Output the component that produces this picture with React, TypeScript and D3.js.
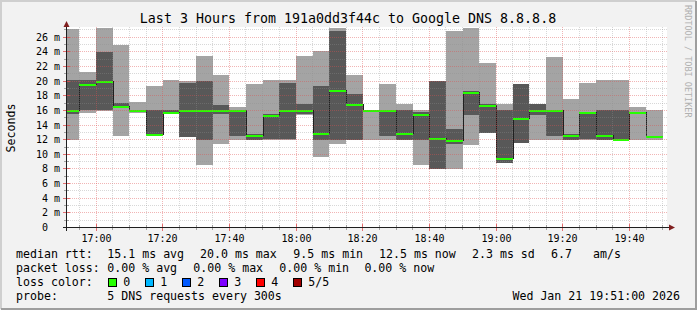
import React from 'react';
import * as d3 from 'd3';

// ---- data (ms) ----
const binStarts = [
  "16:50", "16:55", "17:00", "17:05", "17:10", "17:15", "17:20", "17:25", "17:30", "17:35",
  "17:40", "17:45", "17:50", "17:55", "18:00", "18:05", "18:10", "18:15", "18:20", "18:25",
  "18:30", "18:35", "18:40", "18:45", "18:50", "18:55", "19:00", "19:05", "19:10", "19:15",
  "19:20", "19:25", "19:30", "19:35", "19:40", "19:45",
];
const ping1 = [12.0, 15.6, 15.95, 12.5, 15.7, 12.7, 15.7, 12.3, 8.6, 11.4,
  12.0, 11.95, 12.0, 12.0, 15.4, 9.6, 11.4, 11.95, 12.0, 12.0,
  11.95, 8.6, 7.95, 7.95, 11.3, 12.85, 8.8, 11.5, 12.0, 12.0,
  11.95, 12.0, 11.95, 11.95, 12.0, 12.0];
const ping2 = [15.5, 16.0, 16.0, 16.4, 15.9, 12.75, 15.75, 12.4, 12.0, 15.5,
  12.5, 12.0, 12.05, 12.05, 15.45, 12.0, 12.0, 12.0, 15.9, 12.5,
  12.0, 12.0, 8.0, 11.4, 15.4, 12.9, 8.85, 11.55, 15.4, 12.5,
  12.0, 12.05, 12.0, 12.0, 15.75, 12.45];
const median = [16.0, 19.6, 20.0, 16.6, 16.0, 12.8, 15.8, 16.0, 16.0, 16.0,
  16.0, 12.7, 15.4, 16.0, 16.0, 12.9, 18.8, 16.85, 16.0, 16.0,
  12.9, 15.5, 12.2, 12.0, 18.55, 16.8, 9.5, 15.0, 16.0, 16.0,
  12.7, 15.8, 12.7, 12.1, 15.8, 12.5];
const ping4 = [20.1, 20.1, 24.0, 17.0, 16.1, 16.0, 16.0, 19.8, 20.0, 16.7,
  16.1, 12.75, 15.5, 19.7, 16.85, 19.3, 26.8, 18.2, 16.05, 16.05,
  16.0, 15.8, 20.0, 13.4, 18.7, 16.85, 16.0, 19.6, 16.85, 16.05,
  12.75, 15.85, 16.0, 16.0, 15.85, 12.55];
const ping5 = [27.1, 21.2, 27.3, 25.0, 17.1, 19.4, 20.1, 20.0, 23.5, 20.8,
  16.5, 19.6, 20.1, 20.1, 23.4, 24.1, 27.3, 20.9, 16.1, 19.6,
  16.85, 16.0, 20.05, 26.9, 27.3, 22.5, 16.85, 19.65, 16.9, 23.3,
  17.5, 19.7, 20.1, 20.1, 16.4, 16.0];

const yTickValues = [0, 2, 4, 6, 8, 10, 12, 14, 16, 18, 20, 22, 24, 26];
const xTickLabels = ["17:00", "17:20", "17:40", "18:00", "18:20", "18:40", "19:00", "19:20", "19:40"];

const lossLabels = ["0", "1", "2", "3", "4", "5/5"];
const lossColors = ["#26ff00", "#00b8ff", "#0059ff", "#7e00ff", "#ff0000", "#a10000"];

const medianRow = [
  { t: "median rtt:", x: 16 },
  { t: "15.1 ms avg", x: 107.3 },
  { t: "20.0 ms max", x: 200 },
  { t: "9.5 ms min", x: 293.3 },
  { t: "12.5 ms now", x: 379 },
  { t: "2.3 ms sd", x: 472 },
  { t: "6.7", x: 551 },
  { t: "am/s", x: 593 },
];
const lossRow = [
  { t: "packet loss:", x: 16 },
  { t: "0.00 % avg", x: 107.3 },
  { t: "0.00 % max", x: 193.3 },
  { t: "0.00 % min", x: 279.3 },
  { t: "0.00 % now", x: 364.4 },
];

const W = 697;
const H = 310;
const MONO = "'DejaVu Sans Mono', monospace";

const toDate = (s: string) => {
  const [h, m] = s.split(":").map(Number);
  return new Date(2026, 0, 21, h, m);
};

export default function App() {
  const x = d3.scaleTime()
    .domain([new Date(2026, 0, 21, 16, 51), new Date(2026, 0, 21, 19, 51)])
    .range([66, 666]);
  const y = d3.scaleLinear().domain([0, 27.33]).range([227.5, 27.5]);
  const crisp = (v: number) => Math.floor(v) + 0.5;

  const bins = binStarts.map((s, i) => {
    const t0 = toDate(s);
    const t1 = d3.timeMinute.offset(t0, 5);
    return {
      x0: Math.round(x(t0)),
      x1: Math.round(x(t1)),
      p1: ping1[i], p2: ping2[i], med: median[i], p4: ping4[i], p5: ping5[i],
    };
  });

  const linePts: [number, number][] = bins.map(b => [b.x0, Math.round(y(b.med)) + 0.5]);
  linePts.push([bins[bins.length - 1].x1, Math.round(y(bins[bins.length - 1].med)) + 0.5]);
  const medLine = d3.line().curve(d3.curveStepAfter)(linePts) || "";

  const start = new Date(2026, 0, 21, 16, 51);
  const end = new Date(2026, 0, 21, 19, 51);
  const minorTimes = d3.timeMinute.every(5)!.range(start, end).filter(t => t.getMinutes() % 20 !== 0);
  const majorTimes = d3.timeMinute.every(20)!.range(start, end);
  const minorY = d3.range(1, 28).filter(v => v % 2 !== 0);
  const majorY = d3.range(2, 27, 2);

  const gridMinor = "rgba(143,143,143,0.35)";
  const gridMajor = "rgba(222,79,79,0.42)";

  return (
    <svg width={W} height={H} style={{ position: 'absolute', left: 0, top: 0, display: 'block' }}
      xmlns="http://www.w3.org/2000/svg">
      <defs>
        <clipPath id="plotclip">
          <rect x={66} y={27} width={601} height={201} />
        </clipPath>
      </defs>
      <rect x={0} y={0} width={W} height={H} fill="#f2f2f2" />
      <polyline points={`1,${H - 1} 1,1 ${W - 1},1`} fill="none" stroke="#cfcfcf" strokeWidth={2} />
      <polyline points={`1,${H - 1} ${W - 1},${H - 1} ${W - 1},1`} fill="none" stroke="#9e9e9e" strokeWidth={2} />

      <rect x={66} y={27} width={601} height={201} fill="#ffffff" />

      <g clipPath="url(#plotclip)" shapeRendering="crispEdges">
        {bins.map((b, i) => (
          <rect key={"o" + i} x={b.x0} width={b.x1 - b.x0}
            y={y(b.p5)} height={y(b.p1) - y(b.p5)} fill="#a4a4a4" />
        ))}
        {bins.map((b, i) => (
          <rect key={"i" + i} x={b.x0} width={b.x1 - b.x0}
            y={y(b.p4)} height={y(b.p2) - y(b.p4)} fill="#585858" />
        ))}
        <path d={medLine} fill="none" stroke="#202020" strokeWidth={1} />
        {bins.map((b, i) => (
          <rect key={"m" + i} x={b.x0} width={b.x1 - b.x0}
            y={Math.round(y(b.med)) - 0.5} height={2} fill="#26ff00" />
        ))}
      </g>

      <g strokeWidth={1} strokeDasharray="1,1" shapeRendering="crispEdges">
        {minorY.map(v => (
          <line key={"hy" + v} x1={66} x2={667} y1={crisp(y(v))} y2={crisp(y(v))} stroke={gridMinor} />
        ))}
        {majorY.map(v => (
          <line key={"Hy" + v} x1={66} x2={667} y1={crisp(y(v))} y2={crisp(y(v))} stroke={gridMajor} />
        ))}
        {minorTimes.map((t, i) => (
          <line key={"vx" + i} x1={crisp(x(t))} x2={crisp(x(t))} y1={27} y2={228} stroke={gridMinor} />
        ))}
        {majorTimes.map((t, i) => (
          <line key={"Vx" + i} x1={crisp(x(t))} x2={crisp(x(t))} y1={27} y2={228} stroke={gridMajor} />
        ))}
      </g>

      <g shapeRendering="crispEdges">
        {minorY.map(v => (
          <line key={"ty" + v} x1={64} x2={69} y1={crisp(y(v))} y2={crisp(y(v))} stroke="rgba(143,143,143,0.8)" />
        ))}
        {majorY.map(v => (
          <line key={"Ty" + v} x1={63} x2={70} y1={crisp(y(v))} y2={crisp(y(v))} stroke="rgba(222,79,79,0.8)" />
        ))}
        {minorTimes.map((t, i) => (
          <line key={"tx" + i} x1={crisp(x(t))} x2={crisp(x(t))} y1={225} y2={230} stroke="rgba(143,143,143,0.8)" />
        ))}
        {majorTimes.map((t, i) => (
          <line key={"Tx" + i} x1={crisp(x(t))} x2={crisp(x(t))} y1={224} y2={231} stroke="rgba(222,79,79,0.8)" />
        ))}
      </g>

      <g shapeRendering="crispEdges" stroke="#1f1f1f" strokeWidth={1}>
        <line x1={63} x2={670} y1={227.5} y2={227.5} />
        <line x1={66.5} x2={66.5} y1={231} y2={26} />
      </g>
      <path d="M669,224.5 L675,227.5 L669,230.5 Z" fill="#801f1f" />
      <path d="M63.5,27 L66.5,21 L69.5,27 Z" fill="#801f1f" />

      <g fontFamily={MONO} fontSize={10} fill="#000">
        {yTickValues.map(v => (
          <g key={"yl" + v}>
            <text x={48} y={crisp(y(v)) + 3.6} textAnchor="end">{String(v)}</text>
            {v !== 0 && <text x={54} y={crisp(y(v)) + 3.6}>m</text>}
          </g>
        ))}
        {xTickLabels.map(s => (
          <text key={"xl" + s} x={crisp(x(toDate(s)))} y={242} textAnchor="middle">{s}</text>
        ))}
      </g>

      <text transform="translate(15,128) rotate(-90)" fontFamily={MONO} fontSize={11.6}
        textAnchor="middle" fill="#000">Seconds</text>

      <text x={348} y={23} fontFamily={MONO} fontSize={13.3} textAnchor="middle" fill="#000">
        Last 3 Hours from 191a0dd3f44c to Google DNS 8.8.8.8
      </text>

      <text transform="translate(685,5) rotate(90)" fontFamily={MONO} fontSize={8.5} fill="#b0b0b0">
        RRDTOOL / TOBI OETIKER
      </text>

      <g fontFamily={MONO} fontSize={11.6} fill="#000">
        {medianRow.map((c, i) => (
          <text key={"mr" + i} x={c.x} y={258.3}>{c.t}</text>
        ))}
        {lossRow.map((c, i) => (
          <text key={"lr" + i} x={c.x} y={272.3}>{c.t}</text>
        ))}
        <text x={16} y={286.3}>loss color:</text>
        {lossLabels.map((l, i) => (
          <g key={"lc" + i}>
            <rect x={108.5 + i * 37} y={278.5} width={8} height={8} fill={lossColors[i]}
              stroke="#000" strokeWidth={1} shapeRendering="crispEdges" />
            <text x={123.3 + i * 37} y={286.3}>{l}</text>
          </g>
        ))}
        <text x={16} y={300.3}>probe:</text>
        <text x={107.3} y={300.3}>5 DNS requests every 300s</text>
        <text x={680} y={300.3} textAnchor="end">Wed Jan 21 19:51:00 2026</text>
      </g>
    </svg>
  );
}
